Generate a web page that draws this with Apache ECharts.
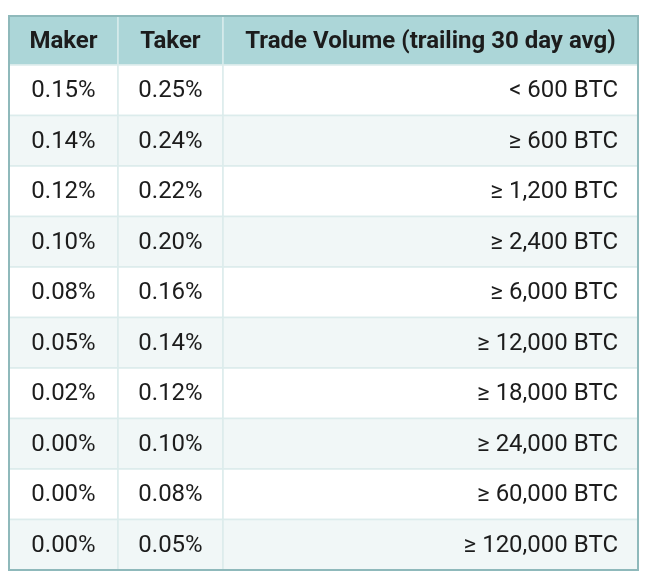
<!DOCTYPE html>
<html>
<head>
<meta charset="utf-8">
<script src="https://cdn.jsdelivr.net/npm/echarts@6/dist/echarts.min.js"></script>
<style>html,body{margin:0;padding:0;background:#fff}#main{width:650px;height:582px}</style>
</head>
<body>
<div id="main"></div>
<script>
// table content
var headers = ['Maker', 'Taker', 'Trade Volume (trailing 30 day avg)'];
var makerFees = ['0.15%', '0.14%', '0.12%', '0.10%', '0.08%', '0.05%', '0.02%', '0.00%', '0.00%', '0.00%'];
var takerFees = ['0.25%', '0.24%', '0.22%', '0.20%', '0.16%', '0.14%', '0.12%', '0.10%', '0.08%', '0.05%'];
var volumes = ['< 600 BTC', '≥ 600 BTC', '≥ 1,200 BTC', '≥ 2,400 BTC', '≥ 6,000 BTC',
    '≥ 12,000 BTC', '≥ 18,000 BTC', '≥ 24,000 BTC', '≥ 60,000 BTC', '≥ 120,000 BTC'];

var colEdges = [0, 109, 214, 629];
var headerH = 49;
var rowH = 50.5;

var cells = [];
headers.forEach(function (h, c) { cells.push([-1, c, h]); });
var cols = [makerFees, takerFees, volumes];
for (var r = 0; r < makerFees.length; r++) {
    for (var c = 0; c < 3; c++) {
        cells.push([r, c, cols[c][r]]);
    }
}

function rowTop(r) { return r < 0 ? 0 : headerH + r * rowH; }

var chart = echarts.init(document.getElementById('main'));
chart.setOption({
    animation: false,
    grid: {left: 9, top: 16, width: 629, height: 554},
    xAxis: {type: 'value', min: 0, max: 629, show: false},
    yAxis: {type: 'value', min: 0, max: 554, inverse: true, show: false},
    series: [{
        type: 'custom',
        data: cells,
        renderItem: function (params, api) {
            var r = api.value(0);
            var c = api.value(1);
            var txt = cells[params.dataIndex][2];
            var p0 = api.coord([colEdges[c], rowTop(r)]);
            var p1 = api.coord([colEdges[c + 1], rowTop(r) + (r < 0 ? headerH : rowH)]);
            var w = p1[0] - p0[0];
            var h = p1[1] - p0[1];
            var isHead = r < 0;
            var fill = isHead ? '#acd6d8' : (r % 2 ? '#f1f7f7' : '#ffffff');
            var right = c === 2 && !isHead;
            return {
                type: 'group',
                children: [{
                    type: 'rect',
                    shape: {x: p0[0], y: p0[1], width: w, height: h},
                    style: {fill: fill, stroke: isHead ? '#d6ecec' : '#dcecec', lineWidth: 1.5}
                }, {
                    type: 'text',
                    style: {
                        text: txt,
                        x: right ? p1[0] - 20 : p0[0] + w / 2,
                        y: p0[1] + h / 2 + 1,
                        align: right ? 'right' : 'center',
                        verticalAlign: 'middle',
                        fill: '#1c1c1c',
                        font: (isHead ? 'bold ' : '') + '24px Roboto'
                    }
                }]
            };
        }
    }],
    graphic: [{
        type: 'rect',
        shape: {x: 9, y: 16, width: 629, height: 554},
        style: {fill: null, stroke: '#8fb9bb', lineWidth: 2},
        z: 100
    }]
});
</script>
</body>
</html>
